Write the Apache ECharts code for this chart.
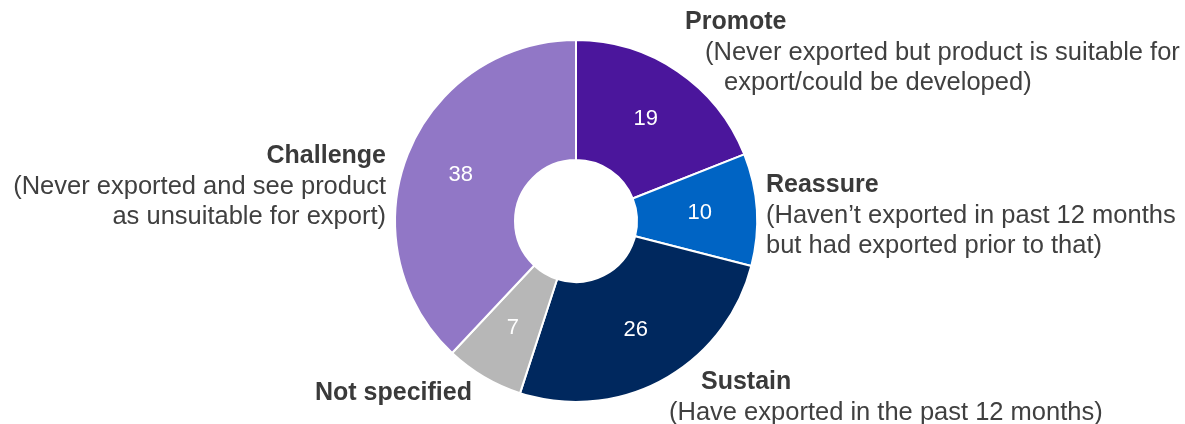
<!DOCTYPE html>
<html>
<head>
<meta charset="utf-8">
<style>
  html, body { margin: 0; padding: 0; background: #fff; }
  #chart { width: 1185px; height: 424px; }
</style>
<script src="https://cdn.jsdelivr.net/npm/echarts@6/dist/echarts.min.js"></script>
</head>
<body>
<div id="chart"></div>
<script>
var segments = ['Promote', 'Reassure', 'Sustain', 'Not specified', 'Challenge'];
var counts = [19, 10, 26, 7, 38];
var notes = [
  ['(Never exported but product is suitable for', 'export/could be developed)'],
  ['(Haven\u2019t exported in past 12 months', 'but had exported prior to that)'],
  ['(Have exported in the past 12 months)'],
  [],
  ['(Never exported and see product', 'as unsuitable for export)']
];
var colors = ['#4b169c', '#0064c4', '#00285e', '#b7b7b7', '#9177c6'];

(function() {
  var ink = '#404040';
  var font = 'Liberation Sans, Arial, sans-serif';
  var chart = echarts.init(document.getElementById('chart'), null, { renderer: 'canvas' });

  // where each outside label block sits (left/right edge, top) and line indents
  var labelPos = {
    'Promote':       { x: 685, y: 7,   align: 'left',  indent: [0, 20, 39] },
    'Reassure':      { x: 766, y: 170, align: 'left',  indent: [0, 0, 0] },
    'Sustain':       { x: 669, y: 367, align: 'left',  indent: [32, 0] },
    'Not specified': { x: 315, y: 378, align: 'left',  indent: [0] },
    'Challenge':     { x: 386, y: 141, align: 'right', indent: [0, 0, 0] }
  };

  var rich = {};
  [0, 20, 32, 39].forEach(function(ind) {
    rich['t' + ind] = { fontSize: 25, fontWeight: 'bold', fontFamily: font, color: '#3a3a3a', lineHeight: 31, padding: [0, 0, 0, ind] };
    rich['n' + ind] = { fontSize: 25.5, fontFamily: font, color: ink, lineHeight: 30, padding: [0, 0, 0, ind] };
  });

  chart.setOption({
    animation: false,
    series: [{
      type: 'pie',
      center: [576, 221],
      radius: [61, 181],
      startAngle: 90,
      clockwise: true,
      silent: true,
      data: segments.map(function(name, i) {
        return { name: name, value: counts[i], itemStyle: { color: colors[i] } };
      }),
      itemStyle: { borderColor: '#fff', borderWidth: 2 },
      label: {
        show: true,
        position: 'inside',
        color: '#fff',
        fontSize: 22,
        fontFamily: font,
        formatter: '{c}'
      },
      labelLine: { show: false }
    }, {
      // transparent copy that only carries the category captions
      type: 'pie',
      center: [576, 221],
      radius: [61, 181],
      startAngle: 90,
      clockwise: true,
      silent: true,
      data: segments.map(function(name, i) {
        return { name: name, value: counts[i] };
      }),
      itemStyle: { color: 'transparent' },
      label: {
        show: true,
        position: 'inside',
        fontFamily: font,
        formatter: function(p) {
          var pos = labelPos[p.name];
          var lines = ['{t' + pos.indent[0] + '|' + p.name + '}'];
          notes[p.dataIndex].forEach(function(line, j) {
            lines.push('{n' + pos.indent[j + 1] + '|' + line + '}');
          });
          return lines.join('\n');
        },
        rich: rich
      },
      labelLine: { show: false },
      labelLayout: function(params) {
        var pos = labelPos[segments[params.dataIndex]];
        return { x: pos.x, y: pos.y, align: pos.align, verticalAlign: 'top' };
      }
    }]
  });

  window.addEventListener('resize', function() { chart.resize(); });
})();
</script>
</body>
</html>
